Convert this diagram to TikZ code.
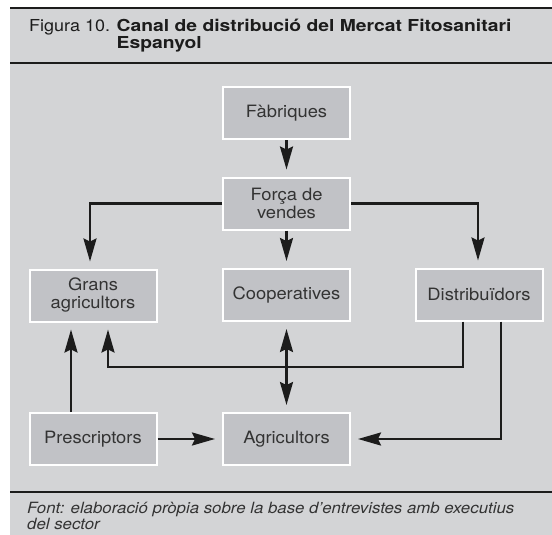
\documentclass[tikz,border=0pt]{standalone}
\usepackage{fontspec}
\setmainfont{TeX Gyre Heros}
\newfontfamily\boxfont[FakeStretch=1.08]{TeX Gyre Heros}
\newfontfamily\figfont[FakeStretch=1.09]{TeX Gyre Heros}
\newfontfamily\titlefont[FakeStretch=1.17]{TeX Gyre Heros}
\newfontfamily\notefont[FakeStretch=1.085]{TeX Gyre Heros}
\usetikzlibrary{arrows.meta}
\definecolor{bg}{HTML}{D3D4D6}
\definecolor{boxfill}{HTML}{C1C2C6}
\definecolor{ink}{HTML}{1C1C1C}
\definecolor{txt}{HTML}{333333}
\tikzset{
  stagebox/.style={draw=white, line width=2pt, fill=boxfill, minimum width=127pt,
    minimum height=52pt, inner sep=2pt, align=center, text=txt,
    font=\boxfont\fontsize{17}{18}\selectfont},
  flow/.style={draw=ink, line width=2.4pt, -{Stealth[length=23pt,width=13pt,inset=3pt]},
    shorten >=7pt},
  bothflow/.style={draw=ink, line width=2.4pt,
    {Stealth[length=23pt,width=13pt,inset=3pt]}-{Stealth[length=23pt,width=13pt,inset=3pt]},
    shorten >=7pt, shorten <=7pt},
  rule/.style={draw=ink, line width=2pt}
}
\begin{document}
\begin{tikzpicture}[x=1pt,y=-1pt]
\useasboundingbox (0,0) rectangle (552,535);
\fill[bg] (10,7) rectangle (552,535);
\draw[rule] (10,8) -- (552,8);
\draw[rule] (10,63) -- (552,63);
\draw[rule] (10,492) -- (552,492);

\node[anchor=north west, inner sep=0pt, align=left, text=ink,
  font=\fontsize{16.5}{15}\selectfont] (title) at (29,19)
  {{\figfont Figura 10. }{\titlefont\bfseries Canal de distribució del Mercat Fitosanitari}\\
   \hphantom{\figfont Figura 10. }{\titlefont\bfseries Espanyol}};

\node[anchor=north west, inner sep=0pt, align=left, text=txt,
  font=\notefont\fontsize{15.5}{14.5}\selectfont\itshape] (source) at (27,502)
  {Font: elaboració pròpia sobre la base d’entrevistes amb executius\\del sector};

\node[stagebox] (fab) at (286.5,113) {Fàbriques};
\node[stagebox] (forca) at (286.5,203.5) {Força de\\vendes};
\node[stagebox] (coop) at (286.5,295) {Cooperatives};
\node[stagebox] (agric) at (286.5,439) {Agricultors};
\node[stagebox] (grans) at (93,295.5) {Grans\\agricultors};
\node[stagebox] (presc) at (93,439) {Prescriptors};
\node[stagebox] (dist) at (479,294.5) {Distribuïdors};

\coordinate (dg1) at (463,367);
\coordinate (dg2) at (108,367);
\coordinate (da1) at (501,439);
\coordinate (gx) at (90,0);
\coordinate (dx) at (478,0);
\coordinate (px) at (71,0);

\draw[flow] (fab) -- (forca);
\draw[flow] (forca) -- (coop);
\draw[flow] (forca.west) -| (grans.north -| gx);
\draw[flow] (forca.east) -| (dist.north -| dx);
\draw[flow] (dist.south -| dg1) |- (dg2) -- (grans.south -| dg2);
\draw[flow] (dist.south -| da1) |- (agric.east);
\draw[flow] (presc.north -| px) -- (grans.south -| px);
\draw[flow] (presc) -- (agric);
\draw[bothflow] (coop) -- (agric);
\end{tikzpicture}
\end{document}
